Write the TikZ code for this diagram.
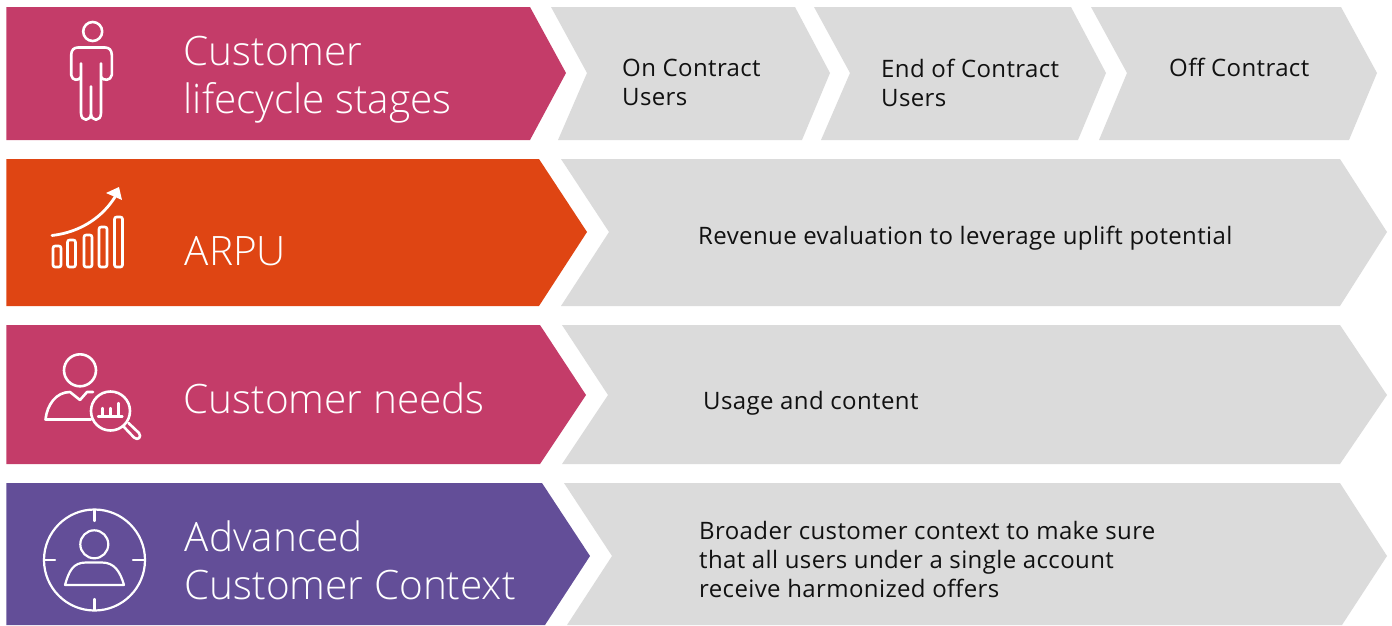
\documentclass[tikz,border=0pt]{standalone}
\usepackage{fontspec}
\setmainfont{Open Sans}[LetterSpace=1.6]
\newfontfamily\headfont[UprightFont={* Light}]{Open Sans}
\usetikzlibrary{positioning}
\definecolor{rosePink}{HTML}{C43C69}
\definecolor{rustOrange}{HTML}{DF4513}
\definecolor{plumViolet}{HTML}{634E98}
\definecolor{paleGrey}{HTML}{DBDBDB}
\definecolor{inkBlack}{HTML}{111111}
\tikzset{
	head/.style={anchor=west,align=left,inner sep=0pt,text=white,font=\headfont\fontsize{40.5}{48}\selectfont},
	body/.style={anchor=west,align=left,inner sep=0pt,text=inkBlack,font=\fontsize{24}{29}\selectfont},
	icon/.style={draw=white,line width=2.6pt,line join=round,line cap=round},
	thinicon/.style={icon,line width=2.2pt},
	band/.style={draw=none}
}
\begin{document}
\begin{tikzpicture}[x=1pt,y=-1pt]
	\useasboundingbox (0,0) rectangle (1392,625);
	% left bands
	\fill[band,rosePink] (6.3,7) -- (530,7) -- (566,73) -- (530,140) -- (6.3,140) -- cycle;
	\fill[band,rustOrange] (6.3,159) -- (539,159) -- (587,232) -- (539,306) -- (6.3,306) -- cycle;
	\fill[band,rosePink] (6.3,325) -- (540,325) -- (586,395) -- (540,464) -- (6.3,464) -- cycle;
	\fill[band,plumViolet] (6.3,483) -- (542,483) -- (590,556) -- (545,625) -- (6.3,625) -- cycle;
	% right bands
	\fill[band,paleGrey] (551,7) -- (795,7) -- (830,73) -- (802,140) -- (558,140) -- (587,73) -- cycle;
	\fill[band,paleGrey] (814,7) -- (1071,7) -- (1106,73) -- (1078,140) -- (821,140) -- (850,73) -- cycle;
	\fill[band,paleGrey] (1091,7) -- (1341,7) -- (1377,73) -- (1349,140) -- (1099,140) -- (1127,73) -- cycle;
	\fill[band,paleGrey] (561,159) -- (1340,159) -- (1387,232) -- (1340,306) -- (561,306) -- (609,232) -- cycle;
	\fill[band,paleGrey] (562,325) -- (1340,325) -- (1387,395) -- (1340,464) -- (562,464) -- (608,395) -- cycle;
	\fill[band,paleGrey] (564,483) -- (1340,483) -- (1387,556) -- (1342,625) -- (567,625) -- (612,556) -- cycle;
	% headings
	\node[head] (stages) at (183.5,80) {Customer\\lifecycle stages};
	\node[head] (arpu) at (184.5,251) {ARPU};
	\node[head] (needs) at (183.5,398) {Customer needs};
	\node[head] (context) at (184.5,560) {Advanced\\Customer Context};
	% texts
	\node[body] (onContract) at (622,82.5) {On Contract\\Users};
	\node[body] (endContract) at (881,82.5) {End of Contract\\Users};
	\node[body] (offContract) at (1169,67.5) {Off Contract};
	\node[body] (revenue) at (698,238) {Revenue evaluation to leverage uplift potential};
	\node[body] (usage) at (703,403) {Usage and content};
	\node[body] (broader) at (699,559.5) {Broader customer context to make sure\\that all users under a single account\\receive harmonized offers};
	% person
	\draw[icon] (92.7,31.5) circle (9.5);
	\draw[icon] (81,63.5) -- (81,113) .. controls (81,122) and (91,122) .. (91,113) -- (91,86.5) (91,113) .. controls (91,122) and (101,122) .. (101,113) -- (101,63.5);
	\draw[icon] (81,77) .. controls (79,81) and (72,81) .. (71.2,75) -- (71.2,55) .. controls (71.2,50) and (74,47.5) .. (78,47.5) -- (105,47.5) .. controls (109,47.5) and (111.8,50) .. (111.8,55) -- (111.8,75) .. controls (111,81) and (103,81) .. (101,77);
	% chart
	\foreach \px/\py in {53/246,67.5/240,84/235,99/227,114.5/217}
		\draw[icon,rounded corners=2pt] (\px,\py) rectangle (\px+8,267);
	\draw[icon,line width=2.8pt] (52,235.5) .. controls (82,232) and (103,216) .. (115,197);
	\fill[white] (119,187) -- (106,193) -- (122,200) -- cycle;
	% needs
	\draw[icon] (80,370.3) circle (16);
	\draw[icon] (93,392) -- (87,392) -- (80,400) -- (70,392) .. controls (56,392) and (47,405) .. (45.5,419.5) -- (91,419.5);
	\draw[icon] (110.5,411) circle (19.5);
	\draw[icon] (124,427) -- (134,437.5) .. controls (138,441) and (142,437) .. (139,433) -- (128.5,423);
	\draw[icon,line width=2.1pt] (98,416.5) -- (122.5,416.5) (102.5,416.5) -- (102.5,408) (110.5,416.5) -- (110.5,408) (118.5,416.5) -- (118.5,403);
	% target
	\draw[thinicon] (94.5,560) circle (50.5);
	\draw[thinicon] (94.5,510) -- (94.5,521) (94.5,599) -- (94.5,610) (44,560) -- (55,560) (133,560) -- (145,560);
	\draw[thinicon] (94.3,544.3) circle (14);
	\draw[thinicon] (65,585) .. controls (69,571) and (73,562.5) .. (86,562.5) -- (102,562.5) .. controls (114,562.5) and (120,571) .. (124,585) -- cycle;
\end{tikzpicture}
\end{document}
